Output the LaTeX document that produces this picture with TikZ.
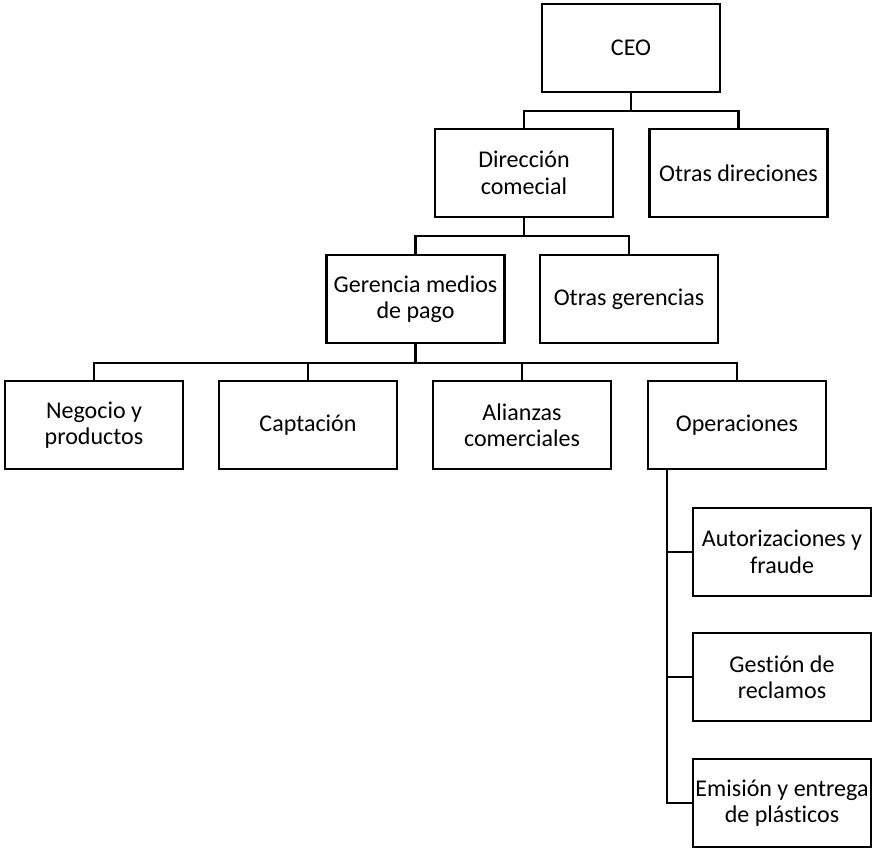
\documentclass[tikz,border=0pt]{standalone}
\usepackage{fontspec}
\setmainfont{Carlito}[Ligatures=NoCommon]
\usepackage{tikz}
\usetikzlibrary{calc}
\tikzset{
  box/.style={draw=black, line width=1.8pt, minimum width=5.34cm, minimum height=2.64cm,
    inner sep=0pt, align=center, font=\fontsize{20.5}{22.5}\selectfont},
  link/.style={draw=black, line width=1.8pt},
}

\begin{document}
\begin{tikzpicture}[x=0.03cm, y=-0.03cm]
  \useasboundingbox (0,0) rectangle (873,850);

  \node[box] (ceo) at (631,48) {CEO};
  \node[box] (dir) at (524,173) {Dirección\\comecial};
  \node[box] (otrdir) at (738.5,173) {Otras direciones};
  \node[box] (ger) at (415.5,299) {Gerencia medios\\de pago};
  \node[box] (otrger) at (629,299) {Otras gerencias};

  \node[box] (neg) at (94,425) {Negocio y\\productos};
  \node[box] (cap) at (308,425) {Captación};
  \node[box] (ali) at (522,425) {Alianzas\\comerciales};
  \node[box] (ope) at (737,425) {Operaciones};

  \node[box] (aut) at (782,552) {Autorizaciones y\\fraude};
  \node[box] (ges) at (782,677) {Gestión de\\reclamos};
  \node[box] (emi) at (782,803) {Emisión y entrega\\de plásticos};

  \draw[link] (ceo.south) -- ++(0,18) -| (dir.north);
  \draw[link] (ceo.south) -- ++(0,18) -| (otrdir.north);
  \draw[link] (dir.south) -- ++(0,18) -| (ger.north);
  \draw[link] (dir.south) -- ++(0,18) -| (otrger.north);
  \foreach \n in {neg,cap,ali,ope}
    \draw[link] (ger.south) -- ++(0,19) -| (\n.north);
  \foreach \n in {aut,ges,emi}
    \draw[link] ([xshift=0.6cm]ope.south west) |- (\n.west);
\end{tikzpicture}
\end{document}
